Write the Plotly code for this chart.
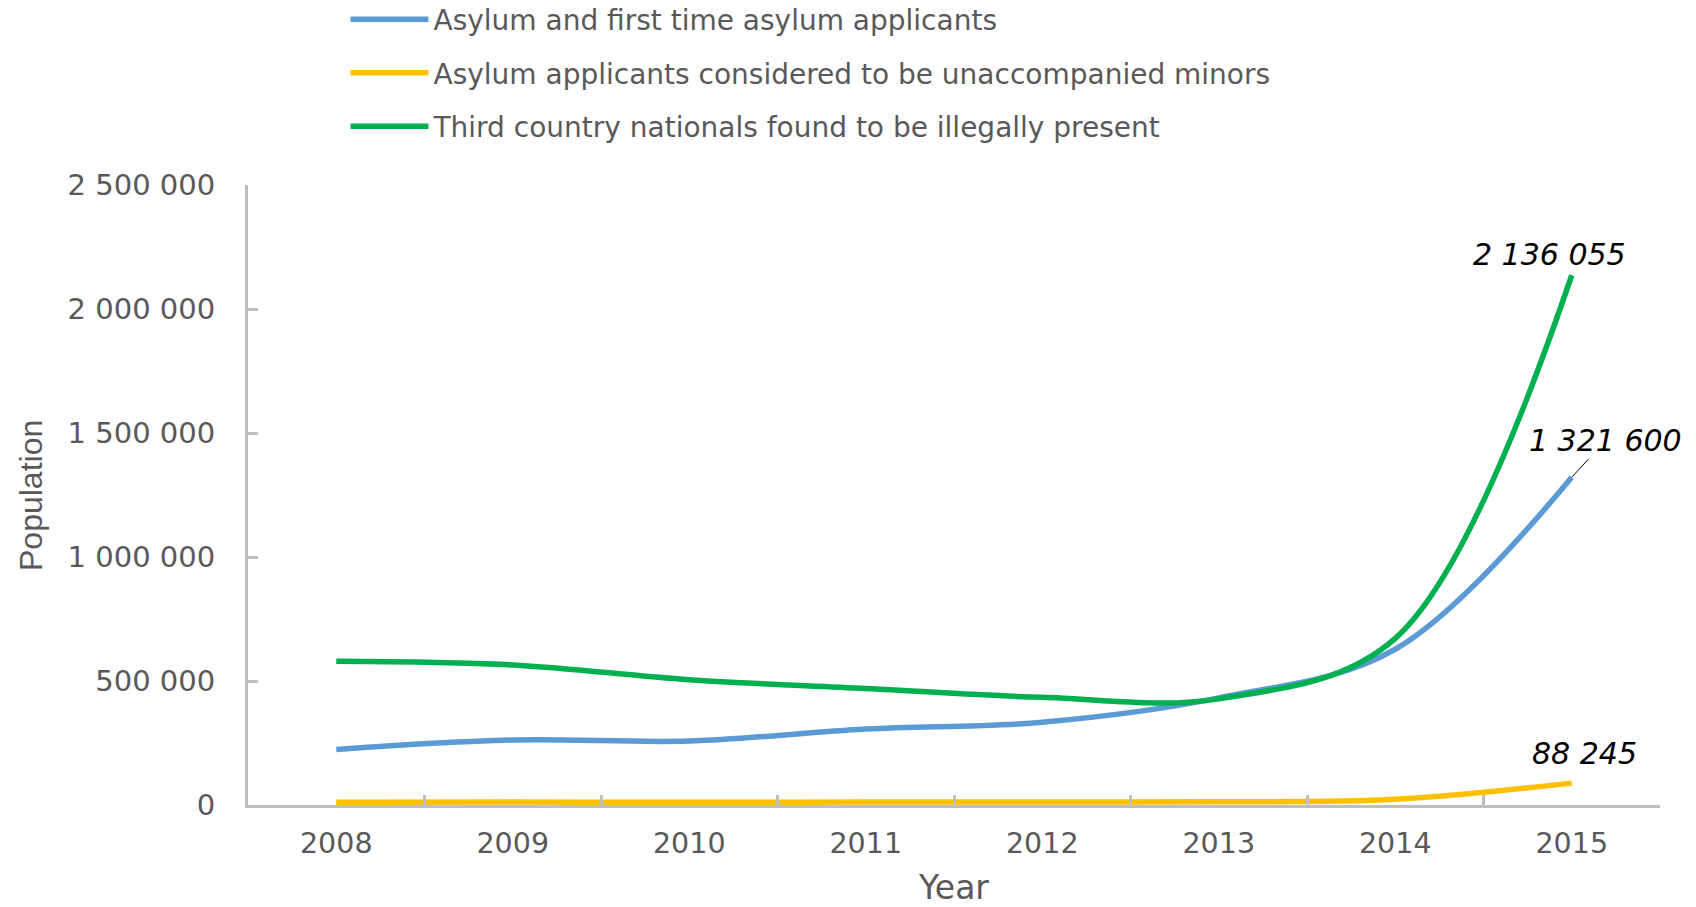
import plotly.graph_objects as go

years = ["2008", "2009", "2010", "2011", "2012", "2013", "2014", "2015"]
asylum = [224000, 262000, 258000, 306000, 334000, 432000, 628000, 1321600]
minors = [11000, 12000, 10600, 11700, 12500, 12700, 23000, 88245]
illegal = [580000, 565000, 505000, 470000, 434000, 428000, 672000, 2136055]

names = [
    "Asylum and first time asylum applicants",
    "Asylum applicants considered to be unaccompanied minors",
    "Third country nationals found to be illegally present",
]
colors = ["#5B9BD5", "#FFC000", "#00B050"]
y_ticks = [0, 500000, 1000000, 1500000, 2000000, 2500000]

GRAY = "#595959"
AXIS = "#BFBFBF"
FONT = "DejaVu Sans, Verdana, sans-serif"

fig = go.Figure()
for i, (name, vals, col) in enumerate(zip(names, [asylum, minors, illegal], colors)):
    fig.add_trace(go.Scatter(
        x=years, y=vals, name=name, mode="lines",
        line=dict(color=col, width=5.5, shape="spline", smoothing=1),
        legendgroup=f"g{i}",
    ))

def fmt(v):
    return f"{v:,}".replace(",", " ")

last = len(years) - 1
lab_font = dict(family=FONT, size=30, color="black", style="italic")
fig.add_annotation(x=last, y=illegal[-1], text=fmt(illegal[-1]), showarrow=False,
                   xshift=-22, yshift=21, font=lab_font)
fig.add_annotation(x=last, y=asylum[-1], text=fmt(asylum[-1]), showarrow=True,
                   ax=34, ay=-37, arrowhead=0, arrowwidth=1, arrowcolor="black", standoff=0,
                   font=lab_font)
fig.add_annotation(x=last, y=minors[-1], text=fmt(minors[-1]), showarrow=False,
                   xshift=13, yshift=30, font=lab_font)

# y-axis title
fig.add_annotation(xref="paper", yref="paper", x=-0.1537, y=0.5, xanchor="center", yanchor="middle",
                   text="Population", textangle=-90, showarrow=False,
                   font=dict(family="Liberation Sans Narrow, Liberation Sans, Arial, sans-serif", size=32, color=GRAY))

fig.update_layout(
    width=1696, height=907,
    margin=dict(l=248, r=36, t=185, b=102, autoexpand=False),
    paper_bgcolor="white", plot_bgcolor="white",
    separators=". ",
    font=dict(family=FONT, color=GRAY, size=28.5),
    showlegend=True,
    legend=dict(
        xref="container", yref="paper", x=0.2037, y=1.307, xanchor="left", yanchor="top",
        font=dict(family=FONT, size=28, color=GRAY),
        tracegroupgap=14, bgcolor="rgba(0,0,0,0)", itemwidth=78,
    ),
    xaxis=dict(
        type="category", range=[-0.5, 7.5], automargin=True,
        showline=True, linecolor=AXIS, linewidth=3,
        ticks="inside", tickson="boundaries", ticklen=10, tickcolor=AXIS, tickwidth=3,
        showgrid=False, zeroline=False, tickangle=0,
        tickfont=dict(family=FONT, size=28.5, color=GRAY),
        ticklabelstandoff=11,
        title=dict(text="Year", font=dict(family=FONT, size=33, color=GRAY), standoff=22),
    ),
    yaxis=dict(
        range=[0, 2500000], tickvals=y_ticks, tickformat=",d", automargin=True,
        showline=True, linecolor=AXIS, linewidth=3,
        ticks="inside", ticklen=10, tickcolor=AXIS, tickwidth=3,
        showgrid=False, zeroline=False,
        tickfont=dict(family=FONT, size=29, color=GRAY),
        ticklabelstandoff=24,
    ),
)

fig.write_html("out.html")
